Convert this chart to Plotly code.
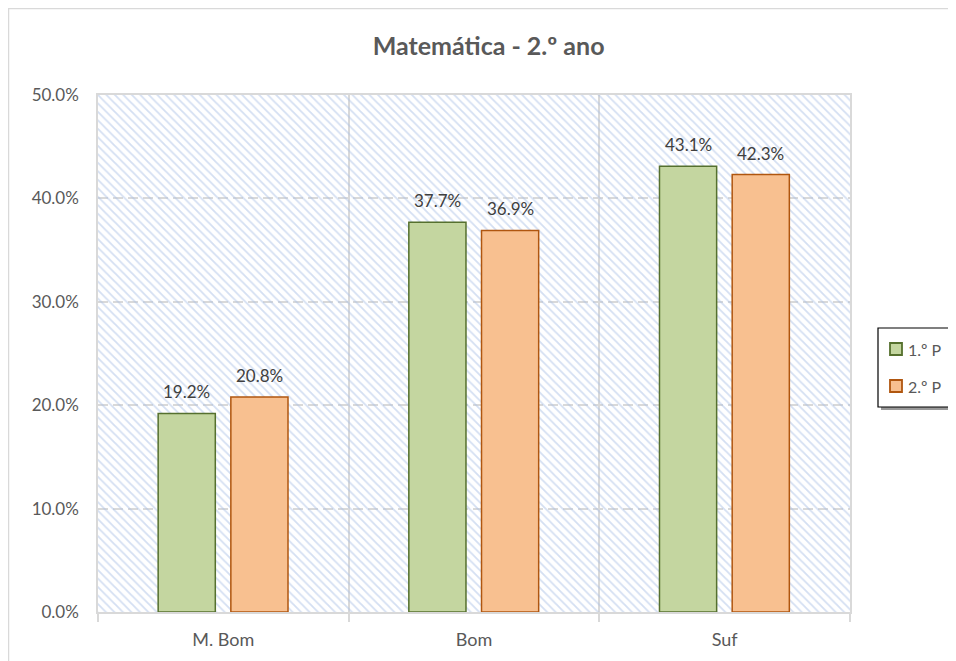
import plotly.graph_objects as go

categorias = ["M. Bom", "Bom", "Suf"]
p1 = [0.192, 0.377, 0.431]
p2 = [0.208, 0.369, 0.423]
series = ["1.º P", "2.º P"]
y_ticks = [0.0, 0.1, 0.2, 0.3, 0.4, 0.5]
y_max = 0.5

FONT = "Lato, Open Sans, sans-serif"
GREY = "#595959"
BAR_W = 0.228
OFFSETS = [-0.26, 0.03]
ML, MR, MT, MB = 90, 106, 87, 49
W, H = 948, 653
PW, PH = W - ML - MR, H - MT - MB
PX_PER_CAT = PW / len(categorias)


def px(xp):
    # pixel horizontal da figura -> coordenada paper
    return (xp - ML) / PW


def py(yp):
    return (MT + PH - yp) / PH


fig = go.Figure()

# fundo tracejado da área do gráfico
fig.add_trace(go.Bar(
    x=[categorias[1]], y=[y_max], width=len(categorias),
    marker=dict(color="rgba(0,0,0,0)", line=dict(width=0),
                pattern=dict(shape="\\", fgcolor="#a9c0e6", size=6, solidity=0.3, fillmode="overlay")),
    showlegend=False, hoverinfo="skip",
))

cores = ["#c4d6a0", "#f8c090"]
bordas = ["#55702e", "#b0560f"]
for i, vals in enumerate([p1, p2]):
    fig.add_trace(go.Bar(
        x=categorias, y=vals, name=series[i], width=BAR_W, offset=OFFSETS[i],
        showlegend=False,
        marker=dict(color=cores[i], line=dict(color=bordas[i], width=1.5)),
    ))

# rótulos dos valores
anots = []
for i, vals in enumerate([p1, p2]):
    for c, v in zip(categorias, vals):
        anots.append(dict(
            x=c, y=v, xref="x", yref="y", text=f"{v * 100:.1f}%", showarrow=False,
            xshift=(OFFSETS[i] + BAR_W / 2) * PX_PER_CAT, yshift=9, yanchor="bottom",
            font=dict(size=17, color="#404040"),
        ))

shapes = [
    # borda exterior
    dict(type="rect", xref="paper", yref="paper", x0=px(0.5), x1=px(941), y0=py(H + 50), y1=py(0.5),
         line=dict(color="#d9d9d9", width=1.5), fillcolor="rgba(0,0,0,0)", layer="below"),
    # legenda: sombra + caixa
    dict(type="rect", xref="paper", yref="paper", x0=px(873), x1=px(947), y0=py(402), y1=py(323),
         line=dict(width=0), fillcolor="rgba(0,0,0,0.4)", layer="above"),
    dict(type="rect", xref="paper", yref="paper", x0=px(870), x1=px(944), y0=py(399), y1=py(320),
         line=dict(color="black", width=1.2), fillcolor="white", layer="above"),
]
legend_y = [341, 378]
for i, nome in enumerate(series):
    yc = legend_y[i]
    shapes.append(dict(type="rect", xref="paper", yref="paper",
                       x0=px(882), x1=px(894), y0=py(yc + 6), y1=py(yc - 6),
                       line=dict(color=bordas[i], width=1.8), fillcolor=cores[i], layer="above"))
    anots.append(dict(x=px(898), y=py(yc), xref="paper", yref="paper", text=nome, showarrow=False,
                      xanchor="left", yanchor="middle", font=dict(size=16, color=GREY)))

fig.update_layout(
    width=W, height=H,
    barmode="overlay",
    paper_bgcolor="white", plot_bgcolor="white",
    font=dict(family=FONT, color=GREY, size=17),
    margin=dict(l=ML, r=MR, t=MT, b=MB, autoexpand=False),
    title=dict(text="<b>Matemática - 2.º ano</b>", x=0.507, xref="container", xanchor="center",
               y=0.942, yref="container", yanchor="middle",
               font=dict(size=25, color=GREY)),
    showlegend=False,
    hovermode=False,
    annotations=anots,
    shapes=shapes,
)

fig.update_xaxes(
    type="category", categoryorder="array", categoryarray=categorias,
    range=[-0.5, len(categorias) - 0.5],
    tickson="boundaries", ticks="outside", ticklen=8, tickcolor="#d9d9d9", tickwidth=1.5,
    showgrid=True, gridcolor="#d9d9d9", gridwidth=1.5,
    showline=True, linecolor="#d9d9d9", linewidth=1.5, mirror=True,
    ticklabelstandoff=11, tickfont=dict(size=18, color=GREY),
)
fig.update_yaxes(
    range=[0, y_max], tickvals=y_ticks, tickformat=".1%",
    showgrid=True, gridcolor="#d9d9d9", gridwidth=1.5, griddash="10px,5px",
    showline=True, linecolor="#d9d9d9", linewidth=1.5, mirror=True,
    ticks="", ticklabelstandoff=14, zeroline=False,
    tickfont=dict(size=17, color=GREY),
)

fig.write_html("out.html")
